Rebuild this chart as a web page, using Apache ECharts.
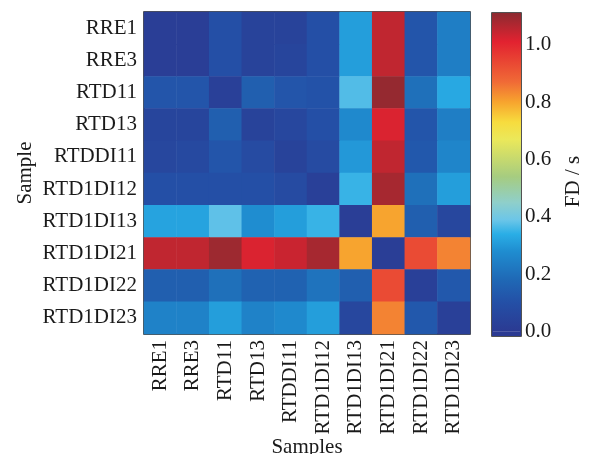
<!DOCTYPE html>
<html>
<head>
<meta charset="utf-8">
<script src="https://cdn.jsdelivr.net/npm/echarts@6/dist/echarts.min.js"></script>
<style>
  html, body { margin: 0; background: #fff; }
  #main { width: 591px; height: 454px; }
</style>
</head>
<body>
<div id="main"></div>
<script>
const samples = ['RRE1', 'RRE3', 'RTD11', 'RTD13', 'RTDDI11', 'RTD1DI12', 'RTD1DI13', 'RTD1DI21', 'RTD1DI22', 'RTD1DI23']

// FD / s, one row per sample (top to bottom), columns in the same order as samples
const rowRRE1 = [0.02, 0.02, 0.10, 0.04, 0.04, 0.10, 0.31, 1.05, 0.12, 0.24]
const rowRRE3 = [0.02, 0.02, 0.10, 0.04, 0.05, 0.10, 0.31, 1.05, 0.12, 0.24]
const rowRTD11 = [0.12, 0.12, 0.03, 0.15, 0.12, 0.11, 0.37, 1.10, 0.20, 0.33]
const rowRTD13 = [0.05, 0.05, 0.15, 0.04, 0.06, 0.10, 0.27, 1.02, 0.12, 0.24]
const rowRTDDI11 = [0.06, 0.07, 0.12, 0.08, 0.04, 0.08, 0.30, 1.05, 0.13, 0.26]
const rowRTD1DI12 = [0.10, 0.10, 0.10, 0.10, 0.08, 0.03, 0.35, 1.08, 0.20, 0.31]
const rowRTD1DI13 = [0.32, 0.32, 0.38, 0.28, 0.31, 0.35, 0.02, 0.80, 0.15, 0.06]
const rowRTD1DI21 = [1.05, 1.05, 1.09, 1.02, 1.04, 1.08, 0.80, 0.02, 0.93, 0.84]
const rowRTD1DI22 = [0.15, 0.15, 0.20, 0.16, 0.16, 0.21, 0.15, 0.93, 0.03, 0.13]
const rowRTD1DI23 = [0.25, 0.25, 0.31, 0.25, 0.27, 0.31, 0.06, 0.84, 0.13, 0.03]

const rows = [rowRRE1, rowRRE3, rowRTD11, rowRTD13, rowRTDDI11, rowRTD1DI12, rowRTD1DI13, rowRTD1DI21, rowRTD1DI22, rowRTD1DI23]

const colorTicks = [0, 0.2, 0.4, 0.6, 0.8, 1.0]
const fdMin = 0
const fdMax = 1.11

// colour map picked off the colour bar
const colorStops = [
  [0.0, '#2b3a92'],
  [0.1, '#244fa6'],
  [0.18, '#1f68b5'],
  [0.28, '#1f8dd0'],
  [0.34, '#2aaee6'],
  [0.39, '#6cc6e8'],
  [0.45, '#8fcfca'],
  [0.54, '#a6cc80'],
  [0.67, '#ebe85a'],
  [0.73, '#f7dc3e'],
  [0.8, '#f7a42e'],
  [0.87, '#f06a36'],
  [1.01, '#e22230'],
  [1.11, '#8c2a30'],
]

function hexRgb(h) {
  return [1, 3, 5].map((i) => parseInt(h.slice(i, i + 2), 16))
}

function colorAt(v) {
  for (let i = 1; i < colorStops.length; i++) {
    const [v0, c0] = colorStops[i - 1]
    const [v1, c1] = colorStops[i]
    if (v <= v1 || i === colorStops.length - 1) {
      const t = Math.min(1, Math.max(0, (v - v0) / (v1 - v0)))
      const a = hexRgb(c0)
      const b = hexRgb(c1)
      return 'rgb(' + a.map((x, k) => Math.round(x + (b[k] - x) * t)).join(',') + ')'
    }
  }
}

const palette = []
for (let i = 0; i <= 60; i++) palette.push(colorAt(fdMin + ((fdMax - fdMin) * i) / 60))

const heatData = []
rows.forEach((row, y) => row.forEach((v, x) => heatData.push([x, y, v])))

const font = 'Liberation Serif'
const ink = '#1a1a1a'
const txt = { fontFamily: font, fontSize: 21, color: ink }

const chart = echarts.init(document.getElementById('main'))

chart.setOption({
  animation: false,
  textStyle: txt,
  grid: [
    {
      left: 144, top: 12, width: 326, height: 322,
      show: true, borderColor: ink, borderWidth: 1.5, outerBoundsMode: 'none',
    },
    {
      left: 492, top: 13, width: 29, height: 323,
      show: true, borderColor: ink, borderWidth: 1.5, outerBoundsMode: 'none',
    },
  ],
  xAxis: [
    {
      type: 'category',
      data: samples,
      gridIndex: 0,
      position: 'bottom',
      name: 'Samples',
      nameLocation: 'middle',
      nameGap: 103,
      nameMoveOverlap: false,
      nameTextStyle: txt,
      axisLine: { show: false },
      axisTick: { inside: true, alignWithLabel: true, length: 5, lineStyle: { color: ink } },
      axisLabel: { ...txt, rotate: 90, margin: 6, interval: 0 },
      splitLine: { show: false },
    },
    {
      type: 'category',
      data: samples,
      gridIndex: 0,
      position: 'top',
      axisLine: { show: false },
      axisTick: { inside: true, alignWithLabel: true, length: 4, lineStyle: { color: ink } },
      axisLabel: { show: false },
    },
    { type: 'category', data: ['FD'], gridIndex: 1, show: false },
  ],
  yAxis: [
    {
      type: 'category',
      data: samples,
      gridIndex: 0,
      inverse: true,
      position: 'left',
      name: 'Sample',
      nameLocation: 'middle',
      nameGap: 108,
      nameMoveOverlap: false,
      nameTextStyle: txt,
      axisLine: { show: false },
      axisTick: { inside: true, alignWithLabel: true, length: 5, lineStyle: { color: ink } },
      axisLabel: { ...txt, margin: 7, interval: 0 },
      splitLine: { show: false },
    },
    {
      type: 'category',
      data: samples,
      gridIndex: 0,
      inverse: true,
      position: 'right',
      axisLine: { show: false },
      axisTick: { inside: true, alignWithLabel: true, length: 4, lineStyle: { color: ink } },
      axisLabel: { show: false },
    },
    {
      type: 'value',
      gridIndex: 1,
      position: 'right',
      min: -0.015,
      max: fdMax,
      name: 'FD / s',
      nameLocation: 'middle',
      nameGap: 42,
      nameRotate: 90,
      nameMoveOverlap: false,
      nameTextStyle: { ...txt, padding: [0, 14, 0, 0] },
      axisLine: { show: false },
      axisTick: { inside: true, length: 5, lineStyle: { color: ink }, customValues: colorTicks },
      axisLabel: { ...txt, margin: 4, customValues: colorTicks, formatter: (v) => v.toFixed(1) },
      splitLine: { show: false },
    },
  ],
  visualMap: {
    show: false,
    seriesIndex: 0,
    min: fdMin,
    max: fdMax,
    inRange: { color: palette },
  },
  series: [
    {
      type: 'heatmap',
      xAxisIndex: 0,
      yAxisIndex: 0,
      data: heatData,
      emphasis: { disabled: true },
    },
    {
      type: 'bar',
      xAxisIndex: 2,
      yAxisIndex: 2,
      barWidth: '100%',
      barGap: '-100%',
      data: [fdMax],
      silent: true,
      itemStyle: {
        color: new echarts.graphic.LinearGradient(
          0, 1, 0, 0,
          colorStops.map(([v, c]) => ({ offset: (v - fdMin) / (fdMax - fdMin), color: c })),
        ),
      },
      z: 1,
    },
    {
      type: 'bar',
      xAxisIndex: 2,
      yAxisIndex: 2,
      barWidth: '100%',
      barGap: '-100%',
      data: [-0.015],
      silent: true,
      itemStyle: { color: colorStops[0][1] },
      z: 1,
    },
  ],
})
</script>
</body>
</html>
